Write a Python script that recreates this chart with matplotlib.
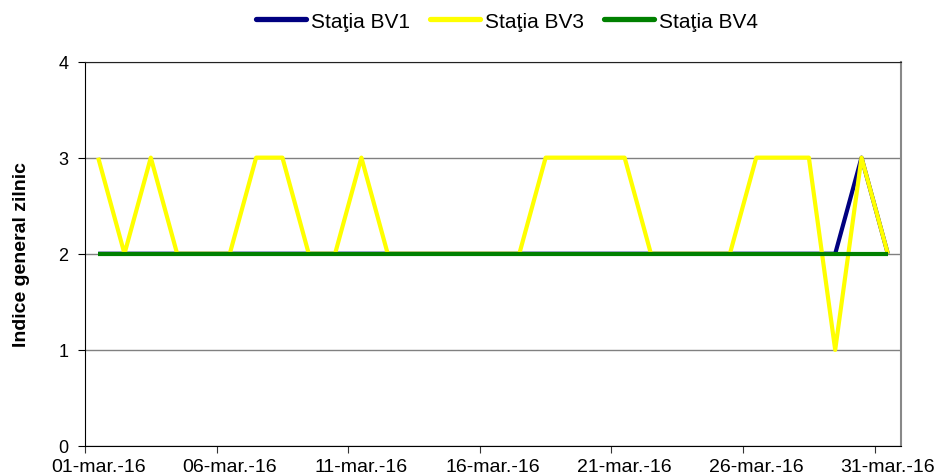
import matplotlib.pyplot as plt
import numpy as np

plt.rcParams['font.family'] = ['Liberation Sans', 'DejaVu Sans']

# zilele lunii martie 2016
days = list(range(1, 32))
bv1 = [2] * 29 + [3, 2]
bv3 = [3, 2, 3, 2, 2, 2, 3, 3, 2, 2, 3, 2, 2, 2, 2, 2, 2, 3, 3, 3,
       3, 2, 2, 2, 2, 3, 3, 3, 1, 3, 2]
bv4 = [2] * 31
series_names = ["Staţia BV1", "Staţia BV3", "Staţia BV4"]
series_colors = ["#000080", "#FFFF00", "#008000"]
label_days = [1, 6, 11, 16, 21, 26, 31]
label_text = ["01-mar.-16", "06-mar.-16", "11-mar.-16", "16-mar.-16",
              "21-mar.-16", "26-mar.-16", "31-mar.-16"]

fig = plt.figure(figsize=(9.38, 4.77), dpi=100)
ax = fig.add_axes([85 / 938, 1 - 447 / 477, 816 / 938, (447 - 62.5) / 477])

for vals, name, col in zip([bv1, bv3, bv4], series_names, series_colors):
    ax.plot(days, vals, color=col, lw=3, label=name,
            solid_joinstyle='round', solid_capstyle='butt')

ax.set_xlim(0.5, 31.5)
ax.set_ylim(0, 4)
ax.set_yticks([0, 1, 2, 3, 4])
ax.grid(axis='y', color='#808080', lw=1)
ax.set_axisbelow(True)

# tick-uri intre categorii, etichete pe categorii
ax.set_xticks([d - 0.5 for d in label_days])
ax.set_xticklabels([])
ax.set_xticks(label_days, minor=True)
ax.set_xticklabels(label_text, minor=True)
ax.tick_params(axis='x', which='major', length=5, color='#333333')
ax.tick_params(axis='x', which='minor', length=0, pad=9, labelsize=14)
ax.tick_params(axis='y', length=5, labelsize=13, pad=7)

for s in ['left', 'bottom']:
    ax.spines[s].set_color('black')
ax.spines['top'].set_color('#222222')
ax.spines['right'].set_color('#888888')
ax.spines['right'].set_linewidth(1.5)

ax.set_ylabel("Indice general zilnic", fontsize=14, fontweight='bold', labelpad=20)

leg = fig.legend(loc='center', bbox_to_anchor=(507 / 938, 1 - 22 / 477), ncol=3,
                 frameon=False, fontsize=15, handlelength=2.4, columnspacing=1.0,
                 handletextpad=0.2)
for line in leg.get_lines():
    line.set_linewidth(3.8)
    line.set_solid_capstyle('round')

fig.savefig("out.png", dpi=100)
